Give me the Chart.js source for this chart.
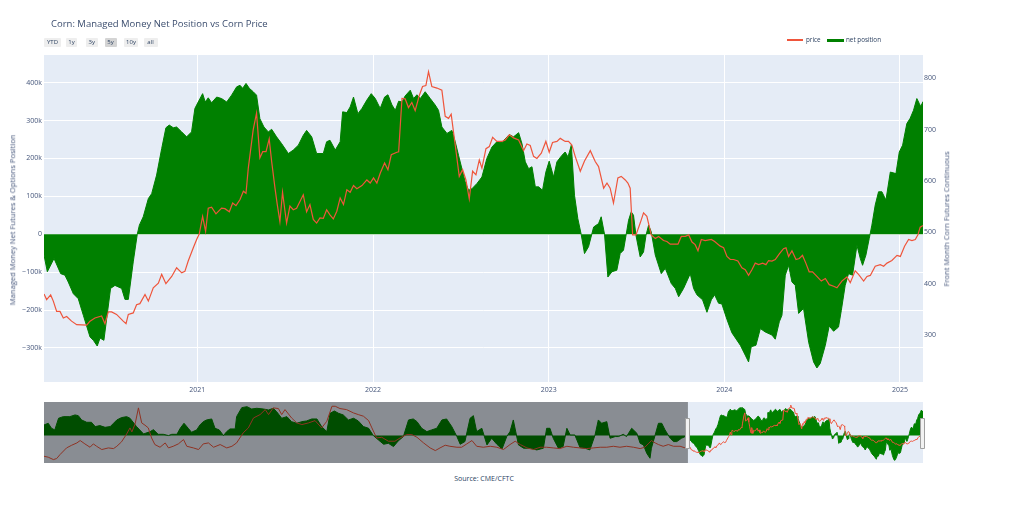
<!DOCTYPE html>
<html>
<head>
<meta charset="utf-8">
<title>Corn: Managed Money Net Position vs Corn Price</title>
<script src="https://cdn.jsdelivr.net/npm/chart.js@4.4.1/dist/chart.umd.min.js"></script>
<style>
  body { margin: 0; background: #fff; font-family: "Open Sans", sans-serif; color: #2a3f5f; }
  #page { position: relative; width: 1024px; height: 508px; overflow: hidden; }
  canvas { position: absolute; left: 0; }
  .txt { position: absolute; white-space: nowrap; line-height: 1; }
  .btn { position: absolute; top: 38px; height: 9px; background: #eeeeee; font-size: 6px; line-height: 9px; text-align: center; border-radius: 1px; }
  .btn.active { background: #d4d4d4; }
  .vtitle { position: absolute; font-size: 7.6px; white-space: nowrap; line-height: 1; transform: translate(-50%, -50%) rotate(-90deg); color: #44557a; }
</style>
</head>
<body>
<div id="page">
  <canvas id="main" width="1024" height="400" style="top:0;width:1024px;height:400px"></canvas>
  <canvas id="slider" width="1024" height="61" style="top:402px;width:1024px;height:61px"></canvas>

  <div class="txt" style="left:51px;top:18.8px;font-size:9.5px;color:#3b4d6e">Corn: Managed Money Net Position vs Corn Price</div>

  <div class="btn" style="left:44px;width:17px">YTD</div>
  <div class="btn" style="left:66px;width:11px">1y</div>
  <div class="btn" style="left:86px;width:11.5px">3y</div>
  <div class="btn active" style="left:104.5px;width:12px">5y</div>
  <div class="btn" style="left:124px;width:14px">10y</div>
  <div class="btn" style="left:143.5px;width:14px">all</div>

  <div style="position:absolute;left:787px;top:39.3px;width:16px;height:1.5px;background:#ef553b"></div>
  <div class="txt" style="left:806px;top:36.8px;font-size:6.3px">price</div>
  <div style="position:absolute;left:827px;top:38.5px;width:17px;height:3px;background:#008000"></div>
  <div class="txt" style="left:846px;top:36.8px;font-size:6.3px">net position</div>

  <div class="vtitle" style="left:12.5px;top:220px">Managed Money Net Futures &amp; Options Position</div>
  <div class="vtitle" style="left:946.5px;top:219px">Front Month Corn Futures Continuous</div>

  <div class="txt" style="left:484px;top:474.5px;font-size:7px;transform:translateX(-50%)">Source: CME/CFTC</div>
</div>

<script>
// axis ticks
const xTicks = [2021, 2022, 2023, 2024, 2025];
const leftTicks = [-300, -200, -100, 0, 100, 200, 300, 400];
const leftTickLabels = ['−300k', '−200k', '−100k', '0', '100k', '200k', '300k', '400k'];
const rightTicks = [300, 400, 500, 600, 700, 800];

// axis ranges (net position in thousands of contracts, price in cents/bu)
const NET_MIN = -390, NET_MAX = 473;
const PRICE_MIN = 208.4, PRICE_MAX = 845.4;

// managed money net position, 5y window
const netYears = [
  2020.127, 2020.146, 2020.184, 2020.222, 2020.246, 2020.265, 2020.294, 2020.322, 2020.351, 2020.389,
  2020.408, 2020.430, 2020.446, 2020.468, 2020.484, 2020.506, 2020.531, 2020.569, 2020.588, 2020.607,
  2020.635, 2020.658, 2020.670, 2020.692, 2020.721, 2020.740, 2020.768, 2020.797, 2020.821, 2020.840,
  2020.863, 2020.882, 2020.911, 2020.939, 2020.967, 2020.986, 2021.005, 2021.030, 2021.045, 2021.062,
  2021.081, 2021.110, 2021.138, 2021.167, 2021.195, 2021.224, 2021.243, 2021.258, 2021.277, 2021.296,
  2021.318, 2021.337, 2021.356, 2021.379, 2021.404, 2021.423, 2021.451, 2021.480, 2021.518, 2021.546,
  2021.575, 2021.603, 2021.622, 2021.651, 2021.679, 2021.717, 2021.736, 2021.755, 2021.785, 2021.813,
  2021.827, 2021.851, 2021.870, 2021.889, 2021.914, 2021.937, 2021.965, 2021.990, 2022.013, 2022.041,
  2022.066, 2022.085, 2022.108, 2022.127, 2022.146, 2022.165, 2022.183, 2022.212, 2022.231, 2022.250,
  2022.269, 2022.297, 2022.326, 2022.354, 2022.373, 2022.392, 2022.421, 2022.449, 2022.468, 2022.487,
  2022.506, 2022.525, 2022.544, 2022.563, 2022.592, 2022.620, 2022.648, 2022.677, 2022.705, 2022.734,
  2022.753, 2022.776, 2022.800, 2022.829, 2022.848, 2022.867, 2022.886, 2022.905, 2022.924, 2022.943,
  2022.965, 2022.984, 2023.003, 2023.028, 2023.047, 2023.075, 2023.094, 2023.110, 2023.129, 2023.147,
  2023.166, 2023.185, 2023.204, 2023.227, 2023.256, 2023.284, 2023.299, 2023.318, 2023.337, 2023.360,
  2023.388, 2023.407, 2023.426, 2023.455, 2023.470, 2023.483, 2023.497, 2023.521, 2023.540, 2023.554,
  2023.569, 2023.584, 2023.607, 2023.641, 2023.664, 2023.698, 2023.721, 2023.740, 2023.768, 2023.806,
  2023.825, 2023.844, 2023.876, 2023.901, 2023.926, 2023.945, 2023.967, 2023.986, 2024.015, 2024.043,
  2024.091, 2024.119, 2024.138, 2024.153, 2024.180, 2024.205, 2024.233, 2024.271, 2024.290, 2024.313,
  2024.328, 2024.347, 2024.366, 2024.385, 2024.404, 2024.423, 2024.451, 2024.480, 2024.508, 2024.527,
  2024.546, 2024.575, 2024.597, 2024.622, 2024.650, 2024.666, 2024.688, 2024.707, 2024.730, 2024.755,
  2024.774, 2024.787, 2024.806, 2024.825, 2024.840, 2024.859, 2024.878, 2024.897, 2024.920, 2024.945,
  2024.977, 2024.996, 2025.015, 2025.039, 2025.058, 2025.077, 2025.096, 2025.110, 2025.118, 2025.131
];
const netValues = [
  -55, -99, -64, -104, -108, -126, -157, -170, -214, -271,
  -280, -295, -274, -280, -222, -143, -135, -143, -172, -172,
  -73, 0, 24, 46, 94, 107, 156, 226, 281, 288,
  281, 283, 270, 257, 270, 332, 349, 371, 349, 360,
  347, 362, 358, 349, 367, 389, 393, 385, 398, 385,
  376, 367, 305, 283, 270, 277, 257, 239, 213, 222,
  235, 261, 274, 257, 213, 213, 244, 248, 222, 244,
  323, 321, 336, 362, 318, 332, 354, 371, 358, 332,
  362, 368, 341, 327, 351, 349, 365, 380, 358, 368,
  358, 376, 358, 341, 327, 283, 266, 274, 244, 208,
  173, 138, 116, 120, 134, 151, 200, 230, 244, 242,
  252, 263, 257, 268, 239, 191, 173, 178, 125, 125,
  116, 164, 193, 151, 191, 208, 217, 204, 235, 103,
  41, 0, -51, -33, 19, 28, 46, 0, -113, -99,
  -95, -51, -42, 37, 59, 50, -3, -60, -47, -3,
  24, 6, -55, -104, -90, -130, -143, -165, -143, -104,
  -143, -160, -173, -206, -173, -160, -182, -184, -225, -260,
  -293, -319, -337, -297, -293, -249, -258, -266, -277, -231,
  -214, -108, -82, -126, -135, -209, -196, -285, -337, -353,
  -341, -293, -242, -256, -245, -201, -135, -104, -108, -29,
  -64, -82, -55, -11, 24, 77, 112, 112, 90, 164,
  160, 217, 235, 292, 306, 327, 358, 345, 337, 350
];

// front month corn price, 5y window
const priceYears = [
  2020.127, 2020.142, 2020.165, 2020.180, 2020.199, 2020.218, 2020.237, 2020.256, 2020.284, 2020.313,
  2020.370, 2020.389, 2020.417, 2020.455, 2020.474, 2020.493, 2020.512, 2020.540, 2020.578, 2020.594,
  2020.607, 2020.635, 2020.654, 2020.673, 2020.702, 2020.721, 2020.749, 2020.778, 2020.797, 2020.821,
  2020.854, 2020.882, 2020.911, 2020.929, 2020.948, 2020.977, 2020.996, 2021.011, 2021.030, 2021.047,
  2021.062, 2021.081, 2021.106, 2021.138, 2021.157, 2021.182, 2021.201, 2021.220, 2021.243, 2021.262,
  2021.277, 2021.290, 2021.318, 2021.337, 2021.356, 2021.372, 2021.391, 2021.409, 2021.423, 2021.442,
  2021.455, 2021.470, 2021.485, 2021.499, 2021.508, 2021.527, 2021.546, 2021.565, 2021.603, 2021.622,
  2021.641, 2021.660, 2021.679, 2021.698, 2021.717, 2021.736, 2021.755, 2021.774, 2021.794, 2021.813,
  2021.832, 2021.851, 2021.870, 2021.889, 2021.908, 2021.937, 2021.965, 2021.984, 2022.003, 2022.022,
  2022.041, 2022.066, 2022.085, 2022.104, 2022.136, 2022.146, 2022.165, 2022.183, 2022.202, 2022.221,
  2022.240, 2022.263, 2022.282, 2022.301, 2022.316, 2022.335, 2022.364, 2022.392, 2022.411, 2022.430,
  2022.445, 2022.468, 2022.491, 2022.510, 2022.529, 2022.548, 2022.567, 2022.586, 2022.605, 2022.620,
  2022.643, 2022.662, 2022.681, 2022.705, 2022.734, 2022.753, 2022.776, 2022.800, 2022.829, 2022.857,
  2022.876, 2022.895, 2022.914, 2022.933, 2022.958, 2022.984, 2023.003, 2023.022, 2023.047, 2023.066,
  2023.094, 2023.113, 2023.132, 2023.151, 2023.180, 2023.204, 2023.237, 2023.265, 2023.284, 2023.313,
  2023.332, 2023.350, 2023.369, 2023.394, 2023.413, 2023.436, 2023.451, 2023.464, 2023.478, 2023.497,
  2023.521, 2023.540, 2023.559, 2023.584, 2023.607, 2023.626, 2023.654, 2023.673, 2023.692, 2023.736,
  2023.755, 2023.778, 2023.797, 2023.816, 2023.834, 2023.850, 2023.869, 2023.891, 2023.926, 2023.945,
  2023.977, 2023.996, 2024.015, 2024.034, 2024.053, 2024.077, 2024.100, 2024.119, 2024.138, 2024.157,
  2024.176, 2024.195, 2024.218, 2024.237, 2024.252, 2024.271, 2024.290, 2024.313, 2024.337, 2024.351,
  2024.366, 2024.385, 2024.408, 2024.427, 2024.445, 2024.464, 2024.483, 2024.502, 2024.527, 2024.552,
  2024.575, 2024.597, 2024.622, 2024.641, 2024.669, 2024.698, 2024.717, 2024.745, 2024.764, 2024.793,
  2024.812, 2024.831, 2024.859, 2024.888, 2024.907, 2024.926, 2024.954, 2024.983, 2025.002, 2025.026,
  2025.049, 2025.068, 2025.087, 2025.102, 2025.115, 2025.131
];
const priceValues = [
  380, 369, 378, 366, 346, 346, 333, 336, 327, 320,
  319, 327, 333, 337, 322, 345, 345, 340, 327, 322,
  340, 343, 359, 361, 379, 366, 392, 401, 418, 400,
  414, 431, 421, 424, 444, 470, 486, 497, 531, 502,
  547, 549, 536, 547, 546, 540, 557, 552, 564, 580,
  576, 625, 700, 732, 645, 657, 657, 682, 638, 586,
  554, 521, 578, 541, 518, 551, 544, 547, 573, 540,
  554, 525, 518, 528, 527, 544, 534, 526, 541, 567,
  554, 583, 578, 591, 585, 591, 602, 596, 606, 596,
  615, 635, 622, 651, 656, 657, 761, 760, 743, 753,
  737, 766, 784, 786, 813, 784, 781, 777, 726, 722,
  730, 670, 609, 622, 602, 565, 619, 612, 641, 625,
  663, 667, 685, 677, 677, 680, 690, 684, 680, 659,
  672, 669, 648, 644, 654, 677, 656, 675, 677, 683,
  677, 677, 670, 648, 619, 639, 659, 638, 628, 586,
  596, 586, 557, 606, 609, 602, 596, 586, 495, 495,
  518, 538, 531, 495, 488, 492, 484, 482, 477, 477,
  492, 492, 495, 481, 476, 464, 486, 484, 486, 482,
  473, 470, 453, 447, 447, 444, 431, 427, 416, 427,
  440, 437, 440, 437, 445, 444, 447, 458, 468, 470,
  453, 464, 447, 449, 455, 440, 423, 423, 414, 405,
  410, 398, 395, 392, 405, 413, 402, 425, 418, 405,
  414, 416, 434, 437, 434, 440, 445, 455, 453, 473,
  486, 484, 486, 495, 510, 513
];

// earlier history, only shown in the range slider
const histNetYears = [
  2006.42, 2006.51, 2006.58, 2006.65, 2006.73, 2006.83, 2006.97, 2007.08, 2007.15, 2007.22,
  2007.33, 2007.43, 2007.51, 2007.61, 2007.72, 2007.83, 2007.90, 2007.97, 2008.07, 2008.18,
  2008.25, 2008.39, 2008.54, 2008.68, 2008.75, 2008.85, 2008.96, 2009.07, 2009.14, 2009.25,
  2009.32, 2009.40, 2009.49, 2009.56, 2009.67, 2009.74, 2009.81, 2009.88, 2009.99, 2010.06,
  2010.15, 2010.24, 2010.31, 2010.38, 2010.49, 2010.52, 2010.63, 2010.74, 2010.84, 2010.95,
  2011.09, 2011.20, 2011.30, 2011.37, 2011.48, 2011.59, 2011.69, 2011.80, 2011.91, 2012.01,
  2012.12, 2012.23, 2012.33, 2012.44, 2012.51, 2012.60, 2012.69, 2012.79, 2012.90, 2013.01,
  2013.11, 2013.22, 2013.33, 2013.43, 2013.54, 2013.65, 2013.75, 2013.86, 2013.96, 2014.07,
  2014.18, 2014.28, 2014.36, 2014.46, 2014.57, 2014.67, 2014.78, 2014.89, 2014.99, 2015.10,
  2015.21, 2015.28, 2015.38, 2015.49, 2015.56, 2015.63, 2015.74, 2015.85, 2015.95, 2016.06,
  2016.17, 2016.27, 2016.34, 2016.41, 2016.52, 2016.63, 2016.77, 2016.91, 2017.05, 2017.12,
  2017.19, 2017.26, 2017.37, 2017.47, 2017.55, 2017.62, 2017.72, 2017.83, 2017.94, 2018.04,
  2018.15, 2018.22, 2018.29, 2018.40, 2018.47, 2018.58, 2018.65, 2018.75, 2018.82, 2018.93,
  2019.04, 2019.11, 2019.18, 2019.25, 2019.32, 2019.35, 2019.43, 2019.50, 2019.57, 2019.64,
  2019.75, 2019.82, 2019.89, 2019.99, 2020.07
];
const histNetValues = [
  148, 172, 101, 78, 243, 266, 266, 290, 280, 219,
  186, 186, 125, 139, 115, 125, 172, 219, 252, 266,
  243, 125, 21, 54, 82, 16, 16, -2, 16, 16,
  101, 172, 101, 45, 78, 148, 195, 219, 233, 101,
  78, -2, 54, 92, 92, 266, 393, 407, 374, 384,
  374, 360, 384, 337, 243, 266, 195, 172, 195, 205,
  233, 233, 125, 54, 313, 346, 313, 290, 219, 243,
  205, 125, 101, -2, -64, -125, -111, -158, -78, -16,
  219, 233, 195, 101, 54, 78, 101, 219, 233, 125,
  -16, -125, -87, 243, 280, 54, 101, -134, -40, -125,
  -191, -16, 54, 219, -134, -181, -181, -205, -181, 101,
  101, -40, -181, -158, 101, 7, 7, -172, -181, -205,
  7, 219, 172, 195, -40, -16, -16, 16, -16, 101,
  31, -111, -134, -252, -323, -181, 7, 172, 172, 78,
  -40, -87, -87, -40, -16
];
const histPriceYears = [
  2006.42, 2006.51, 2006.62, 2006.69, 2006.76, 2006.90, 2007.01, 2007.12, 2007.19, 2007.29,
  2007.40, 2007.47, 2007.54, 2007.65, 2007.79, 2007.90, 2007.97, 2008.07, 2008.18, 2008.25,
  2008.29, 2008.36, 2008.43, 2008.50, 2008.57, 2008.64, 2008.71, 2008.78, 2008.89, 2009.00,
  2009.07, 2009.17, 2009.28, 2009.39, 2009.46, 2009.60, 2009.71, 2009.81, 2009.92, 2010.03,
  2010.17, 2010.31, 2010.42, 2010.52, 2010.66, 2010.77, 2010.88, 2011.02, 2011.13, 2011.20,
  2011.30, 2011.41, 2011.48, 2011.55, 2011.69, 2011.80, 2011.91, 2012.05, 2012.19, 2012.33,
  2012.44, 2012.55, 2012.62, 2012.72, 2012.86, 2013.01, 2013.11, 2013.22, 2013.33, 2013.40,
  2013.50, 2013.61, 2013.75, 2013.89, 2014.00, 2014.14, 2014.25, 2014.36, 2014.50, 2014.64,
  2014.75, 2014.85, 2014.96, 2015.06, 2015.21, 2015.31, 2015.42, 2015.53, 2015.63, 2015.77,
  2015.92, 2016.06, 2016.20, 2016.34, 2016.45, 2016.56, 2016.70, 2016.84, 2016.98, 2017.12,
  2017.26, 2017.40, 2017.55, 2017.69, 2017.83, 2017.97, 2018.11, 2018.26, 2018.40, 2018.54,
  2018.68, 2018.82, 2018.97, 2019.11, 2019.21, 2019.28, 2019.35, 2019.43, 2019.50, 2019.60,
  2019.71, 2019.82, 2019.96, 2020.07
];
const histPriceValues = [
  279, 269, 244, 255, 296, 366, 394, 418, 443, 408,
  373, 408, 383, 349, 366, 359, 383, 429, 512, 575,
  533, 617, 784, 627, 603, 575, 470, 401, 373, 418,
  366, 383, 408, 453, 383, 366, 349, 408, 418, 373,
  401, 366, 383, 418, 523, 575, 679, 714, 766, 714,
  784, 777, 714, 766, 679, 627, 610, 627, 651, 575,
  644, 801, 801, 777, 766, 731, 714, 697, 651, 575,
  470, 477, 436, 436, 470, 505, 505, 477, 418, 366,
  338, 366, 394, 383, 373, 373, 408, 443, 383, 373,
  383, 373, 349, 401, 436, 401, 366, 349, 373, 373,
  366, 359, 383, 373, 366, 359, 366, 373, 373, 383,
  373, 383, 373, 359, 373, 408, 443, 418, 401, 383,
  401, 383, 383, 366
];

const PRICE_COLOR = '#ef553b';
const NET_COLOR = '#008000';
const TEXT_COLOR = '#44557a';
const tickFont = { family: 'Open Sans', size: 7 };

const toPoints = (xs, ys) => xs.map((x, i) => ({ x: x, y: ys[i] }));
const windowStart = netYears[0];
const windowEnd = netYears[netYears.length - 1];

const plotBg = {
  id: 'plotBg',
  beforeDraw(chart) {
    const a = chart.chartArea;
    const ctx = chart.ctx;
    ctx.save();
    ctx.fillStyle = '#e5ecf6';
    ctx.fillRect(a.left, a.top, a.right - a.left, a.bottom - a.top);
    ctx.restore();
  }
};

// grey mask over the part of the history outside the 5y window + grab handles
const sliderMask = {
  id: 'sliderMask',
  afterDatasetsDraw(chart) {
    const a = chart.chartArea;
    const ctx = chart.ctx;
    const x0 = chart.scales.x.getPixelForValue(windowStart);
    const x1 = chart.scales.x.getPixelForValue(windowEnd);
    ctx.save();
    ctx.fillStyle = 'rgba(0,0,0,0.4)';
    ctx.fillRect(a.left, a.top, x0 - a.left, a.bottom - a.top);
    const mid = (a.top + a.bottom) / 2;
    [x0, x1].forEach(x => {
      ctx.fillStyle = '#f2f2f2';
      ctx.strokeStyle = '#a0a0a0';
      ctx.lineWidth = 1;
      ctx.beginPath();
      ctx.rect(Math.round(x) - 2.5, Math.round(mid - 15) + 0.5, 4, 30);
      ctx.fill();
      ctx.stroke();
    });
    ctx.restore();
  }
};

new Chart(document.getElementById('main'), {
  type: 'line',
  data: {
    datasets: [
      {
        label: 'price',
        data: toPoints(priceYears, priceValues),
        yAxisID: 'y1',
        borderColor: PRICE_COLOR,
        borderWidth: 1.2,
        pointRadius: 0,
        fill: false,
        order: 0
      },
      {
        label: 'net position',
        data: toPoints(netYears, netValues),
        yAxisID: 'y',
        borderColor: NET_COLOR,
        backgroundColor: NET_COLOR,
        borderWidth: 1,
        pointRadius: 0,
        fill: 'origin',
        order: 1
      }
    ]
  },
  options: {
    responsive: false,
    animation: false,
    devicePixelRatio: 1,
    layout: { padding: { top: 55, left: 0, right: 0, bottom: 0 } },
    elements: { line: { tension: 0 } },
    plugins: { legend: { display: false }, tooltip: { enabled: false } },
    scales: {
      x: {
        type: 'linear',
        min: windowStart,
        max: windowEnd,
        afterBuildTicks: s => { s.ticks = xTicks.map(v => ({ value: v })); },
        afterFit: s => { s.height = 18; },
        grid: { color: '#ffffff', lineWidth: 1, drawTicks: false },
        border: { display: false },
        ticks: { color: TEXT_COLOR, font: tickFont, padding: 4, maxRotation: 0, autoSkip: false, callback: v => String(v) }
      },
      y: {
        position: 'left',
        min: NET_MIN,
        max: NET_MAX,
        afterBuildTicks: s => { s.ticks = leftTicks.map(v => ({ value: v })); },
        afterFit: s => { s.width = 44; },
        grid: { color: '#ffffff', lineWidth: 1, drawTicks: false },
        border: { display: false },
        ticks: { color: TEXT_COLOR, font: tickFont, padding: 2, callback: v => leftTickLabels[leftTicks.indexOf(v)] }
      },
      y1: {
        position: 'right',
        min: PRICE_MIN,
        max: PRICE_MAX,
        afterBuildTicks: s => { s.ticks = rightTicks.map(v => ({ value: v })); },
        afterFit: s => { s.width = 101; },
        grid: { display: false, drawTicks: false },
        border: { display: false },
        ticks: { color: TEXT_COLOR, font: tickFont, padding: 1, callback: v => String(v) }
      }
    }
  },
  plugins: [plotBg]
});

new Chart(document.getElementById('slider'), {
  type: 'line',
  data: {
    datasets: [
      {
        data: toPoints(histPriceYears.concat(priceYears), histPriceValues.concat(priceValues)),
        yAxisID: 'y1',
        borderColor: PRICE_COLOR,
        borderWidth: 1,
        pointRadius: 0,
        fill: false,
        order: 0
      },
      {
        data: toPoints(histNetYears.concat(netYears), histNetValues.concat(netValues)),
        yAxisID: 'y',
        borderColor: NET_COLOR,
        backgroundColor: NET_COLOR,
        borderWidth: 1,
        pointRadius: 0,
        fill: 'origin',
        order: 1
      }
    ]
  },
  options: {
    responsive: false,
    animation: false,
    devicePixelRatio: 1,
    layout: { padding: { top: 0, left: 44, right: 101, bottom: 0 } },
    elements: { line: { tension: 0 } },
    plugins: { legend: { display: false }, tooltip: { enabled: false } },
    scales: {
      x: { type: 'linear', display: false, min: histNetYears[0], max: windowEnd },
      y: { display: false, min: NET_MIN, max: NET_MAX },
      y1: { display: false, position: 'right', min: PRICE_MIN, max: PRICE_MAX }
    }
  },
  plugins: [plotBg, sliderMask]
});
</script>
</body>
</html>
